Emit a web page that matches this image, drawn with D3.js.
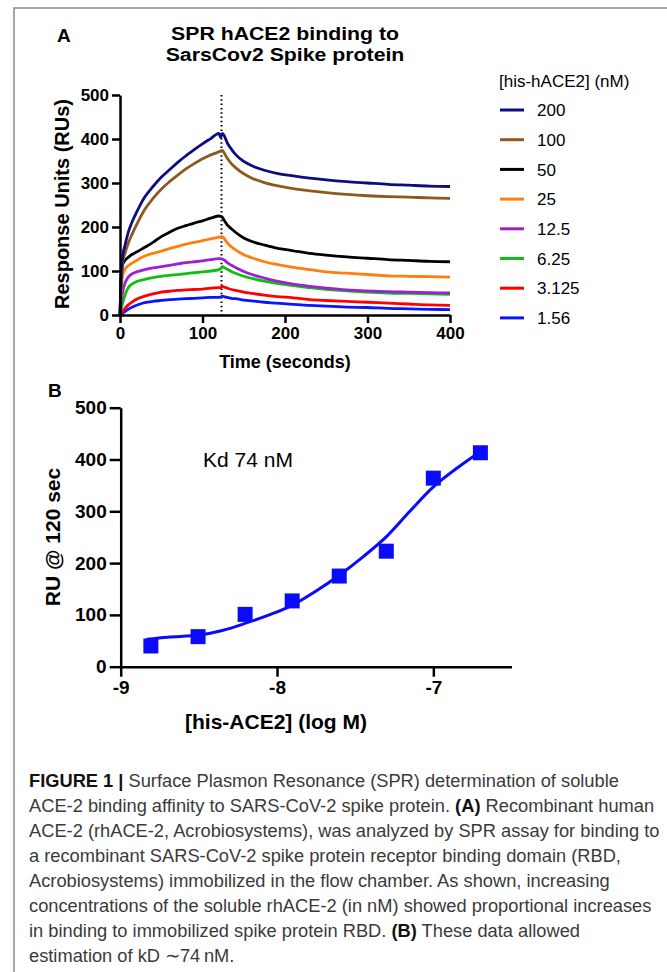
<!DOCTYPE html>
<html>
<head>
<meta charset="utf-8">
<script src="https://cdn.jsdelivr.net/npm/d3@7"></script>
<style>
  body { margin: 0; background: #fff; }
  svg text { font-family: "Liberation Sans", Arial, Helvetica, sans-serif; }
</style>
</head>
<body>
<div id="fig"></div>
<script>
// ---- PANEL A data ----
let TIMES = [0, 1, 3, 6, 10, 15, 20, 30, 40, 50, 60, 70, 80, 90, 100, 110, 120, 122, 124, 127,
             130, 135, 140, 150, 160, 175, 190, 210, 230, 250, 275, 300, 325, 350, 375, 400];

let CONCS = ["200", "100", "50", "25", "12.5", "6.25", "3.125", "1.56"];
let COLORS = ["#0d0d80", "#8c5a1e", "#000000", "#ff7f0e", "#9b1fd6", "#0fbf0f", "#ff0000", "#0a14ff"];

let RU_200 = [0, 75, 130, 158, 188, 213, 233, 268, 292, 313, 330, 347, 362, 376, 389, 401, 413, 404, 413, 405,
              391, 377, 365, 349, 339, 329, 322, 316, 311, 307, 303, 300, 297, 295, 293, 292];
let RU_100 = [0, 65, 115, 140, 163, 185, 205, 240, 265, 286, 303, 318, 332, 344, 355, 364, 371, 373, 374, 366,
              356, 344, 335, 321, 311, 301, 294, 287, 282, 278, 274, 271, 269, 268, 266, 265];
let RU_50 = [0, 60, 112, 124, 131, 138, 143, 154, 165, 178, 188, 197, 203, 209, 214, 220, 225, 224, 222, 213,
             205, 196, 188, 175, 167, 159, 152, 146, 140, 136, 132, 129, 126, 124, 122, 121];
let RU_25 = [0, 40, 88, 104, 112, 118, 124, 134, 140, 145, 151, 156, 161, 165, 169, 173, 177, 178, 178, 172,
             164, 155, 148, 137, 130, 121, 115, 108, 103, 98, 95, 92, 89, 88, 87, 86];
let RU_12 = [0, 20, 50, 72, 86, 94, 98, 103, 107, 110, 113, 116, 119, 121, 123, 126, 128, 128, 127, 124,
             119, 113, 108, 99, 92, 84, 77, 70, 65, 61, 57, 55, 53, 52, 51, 50];
let RU_6 = [0, 10, 25, 45, 62, 71, 76, 81, 85, 88, 90, 92, 94, 96, 98, 100, 103, 105, 110, 107,
            104, 99, 95, 88, 83, 77, 72, 67, 62, 58, 55, 52, 50, 49, 48, 47];
let RU_3 = [0, 3, 8, 15, 23, 30, 36, 43, 48, 52, 54, 56, 57, 58, 59, 61, 62, 62, 65, 63,
            61, 58, 56, 52, 49, 45, 42, 39, 35, 33, 31, 29, 27, 25, 23, 22];
let RU_1 = [0, 2, 4, 8, 13, 18, 22, 28, 31, 33, 35, 36, 37, 38, 39, 40, 40, 41, 43, 41,
            40, 38, 37, 34, 32, 29, 27, 24, 22, 20, 18, 17, 15, 14, 13, 12];

let SERIES = [RU_200, RU_100, RU_50, RU_25, RU_12, RU_6, RU_3, RU_1];
let INJECT_END = 123;

let A_YTICKS = [0, 100, 200, 300, 400, 500];
let A_XTICKS = [0, 100, 200, 300, 400];

// ---- PANEL B data ----
let LOG_CONC = [-8.807, -8.505, -8.204, -7.903, -7.602, -7.301, -7.0, -6.699];
let RU_120 = [40, 58, 101, 127, 175, 223, 364, 413];
let FIT_X = [-8.834, -8.7, -8.5, -8.35, -8.2, -8.05, -7.9, -7.75, -7.6, -7.45, -7.3, -7.15, -7.0, -6.85, -6.7];
let FIT_Y = [53, 57, 61, 70, 84, 100, 119, 146, 177, 212, 251, 300, 347, 383, 415];
let B_YTICKS = [0, 100, 200, 300, 400, 500];
let B_XTICKS = [-9, -8, -7];

let CAPTION = [
  [["FIGURE 1 | ", true], ["Surface Plasmon Resonance (SPR) determination of soluble", false]],
  [["ACE-2 binding affinity to SARS-CoV-2 spike protein. ", false], ["(A)", true], [" Recombinant human", false]],
  [["ACE-2 (rhACE-2, Acrobiosystems), was analyzed by SPR assay for binding to", false]],
  [["a recombinant SARS-CoV-2 spike protein receptor binding domain (RBD,", false]],
  [["Acrobiosystems) immobilized in the flow chamber. As shown, increasing", false]],
  [["concentrations of the soluble rhACE-2 (in nM) showed proportional increases", false]],
  [["in binding to immobilized spike protein RBD. ", false], ["(B)", true], [" These data allowed", false]],
  [["estimation of kD \u223C74\u2009nM.", false]]
];

let W = 667, H = 972;

var svg = d3.select("#fig")
            .append("svg")
            .attr("width", W)
            .attr("height", H);

// frame
svg.append("path")
   .attr("d", "M14," + H + " V8 H" + W)
   .attr("fill", "none")
   .attr("stroke", "#8a8a8a")
   .attr("stroke-width", 1.5);

function styleAxis(g, fontSize) {
    g.select(".domain").attr("stroke", "#000").attr("stroke-width", 2.5);
    g.selectAll(".tick line").attr("stroke", "#000").attr("stroke-width", 2.5);
    g.selectAll(".tick text")
     .attr("fill", "#000")
     .attr("font-size", fontSize + "px")
     .attr("font-weight", "bold")
     .attr("font-family", "Liberation Sans, Arial, sans-serif");
}

// ================= PANEL A =================
let xA = d3.scaleLinear().domain([0, 400]).range([120, 450]);
let yA = d3.scaleLinear().domain([0, 500]).range([315, 95]);

svg.append("text").attr("x", 57).attr("y", 42)
   .attr("font-size", "19px").attr("font-weight", "bold").text("A");

// title is a bit wider than the font, stretch it
let title = svg.append("g")
   .attr("transform", "translate(285,0) scale(1.12,1)")
   .append("text")
   .attr("text-anchor", "middle")
   .attr("font-size", "19px")
   .attr("font-weight", "bold");
title.append("tspan").attr("x", 0).attr("y", 40).text("SPR hACE2 binding to");
title.append("tspan").attr("x", 0).attr("y", 61).text("SarsCov2 Spike protein");

// injection end marker
svg.append("line")
   .attr("x1", xA(INJECT_END)).attr("x2", xA(INJECT_END))
   .attr("y1", yA(500)).attr("y2", yA(0))
   .attr("stroke", "#000")
   .attr("stroke-width", 2)
   .attr("stroke-dasharray", "1.5,2.8");

let lineA = d3.line()
    .x(function(d, i) { return xA(TIMES[i]); })
    .y(function(d) { return yA(d); })
    .curve(d3.curveMonotoneX);

// draw lowest conc first so the top ones sit above
svg.append("g")
   .selectAll("path")
   .data(SERIES.slice().reverse())
   .enter().append("path")
   .attr("d", lineA)
   .attr("fill", "none")
   .attr("stroke", function(d, i) { return COLORS[SERIES.length - 1 - i]; })
   .attr("stroke-width", 2.8)
   .attr("stroke-linejoin", "round");

let axAy = svg.append("g")
   .attr("transform", "translate(120,0)")
   .call(d3.axisLeft(yA).tickValues(A_YTICKS).tickSize(8).tickSizeOuter(0).tickPadding(3));
styleAxis(axAy, 17);

let axAx = svg.append("g")
   .attr("transform", "translate(0,315)")
   .call(d3.axisBottom(xA).tickValues(A_XTICKS).tickSize(8).tickSizeOuter(0).tickPadding(4));
styleAxis(axAx, 17);

svg.append("text")
   .attr("x", 285).attr("y", 368)
   .attr("text-anchor", "middle")
   .attr("font-size", "18px").attr("font-weight", "bold")
   .text("Time (seconds)");

svg.append("text")
   .attr("transform", "translate(69,204) rotate(-90)")
   .attr("text-anchor", "middle")
   .attr("font-size", "20px").attr("font-weight", "bold")
   .text("Response Units (RUs)");

// LEGEND
svg.append("text")
   .attr("x", 499).attr("y", 87)
   .attr("font-size", "17px")
   .text("[his-hACE2] (nM)");

let legend = svg.append("g")
   .selectAll("g")
   .data(CONCS)
   .enter().append("g")
   .attr("transform", function(d, i) { return "translate(0," + (110 + i * 29.7) + ")"; });

legend.append("line")
   .attr("x1", 500).attr("x2", 524)
   .attr("stroke", function(d, i) { return COLORS[i]; })
   .attr("stroke-width", 3);

legend.append("text")
   .attr("x", 537).attr("dy", "0.36em")
   .attr("font-size", "17px")
   .text(function(d) { return d; });

// ================= PANEL B =================
let xB = d3.scaleLinear().domain([-9, -6.5]).range([120.7, 511.5]);
let yB = d3.scaleLinear().domain([0, 500]).range([666.7, 407.7]);

svg.append("text").attr("x", 48).attr("y", 397)
   .attr("font-size", "19px").attr("font-weight", "bold").text("B");

let fitLine = d3.line()
    .x(function(d, i) { return xB(FIT_X[i]); })
    .y(function(d) { return yB(d); })
    .curve(d3.curveMonotoneX);

svg.append("path")
   .datum(FIT_Y)
   .attr("d", fitLine)
   .attr("fill", "none")
   .attr("stroke", "#0a0aff")
   .attr("stroke-width", 3);

let sq = 15;
svg.append("g")
   .selectAll("rect")
   .data(RU_120)
   .enter().append("rect")
   .attr("x", function(d, i) { return xB(LOG_CONC[i]) - sq / 2; })
   .attr("y", function(d) { return yB(d) - sq / 2; })
   .attr("width", sq)
   .attr("height", sq)
   .attr("fill", "#0a0aff");

let axBy = svg.append("g")
   .attr("transform", "translate(120.7,0)")
   .call(d3.axisLeft(yB).tickValues(B_YTICKS).tickSize(11).tickSizeOuter(0).tickPadding(3));
styleAxis(axBy, 19);

let axBx = svg.append("g")
   .attr("transform", "translate(0,666.7)")
   .call(d3.axisBottom(xB).tickValues(B_XTICKS).tickSize(10).tickSizeOuter(0).tickPadding(4)
           .tickFormat(function(d) { return String(d); }));   // plain hyphen like the original
styleAxis(axBx, 19);

svg.append("text")
   .attr("x", 203).attr("y", 467)
   .attr("font-size", "21px")
   .text("Kd 74 nM");

svg.append("text")
   .attr("x", 276).attr("y", 729)
   .attr("text-anchor", "middle")
   .attr("font-size", "21px").attr("font-weight", "bold")
   .text("[his-ACE2] (log M)");

svg.append("text")
   .attr("transform", "translate(60,537) rotate(-90)")
   .attr("text-anchor", "middle")
   .attr("font-size", "21px").attr("font-weight", "bold")
   .text("RU @ 120 sec");

// ================= CAPTION =================
// no narrow font here, so squeeze the block horizontally instead
let cap = svg.append("g");

let capLines = cap.selectAll("text")
   .data(CAPTION)
   .enter().append("text")
   .attr("x", 0)
   .attr("y", function(d, i) { return 787 + i * 25; })
   .attr("font-size", "18.5px")
   .attr("fill", "#3a3a3a");

capLines.selectAll("tspan")
   .data(function(d) { return d; })
   .enter().append("tspan")
   .attr("font-weight", function(d) { return d[1] ? "bold" : null; })
   .attr("fill", function(d) { return d[1] ? "#111" : null; })
   .text(function(d) { return d[0]; });

let w6 = capLines.nodes()[5].getComputedTextLength();
cap.attr("transform", "translate(29,0) scale(" + (623 / w6).toFixed(4) + ",1)");
</script>
</body>
</html>
